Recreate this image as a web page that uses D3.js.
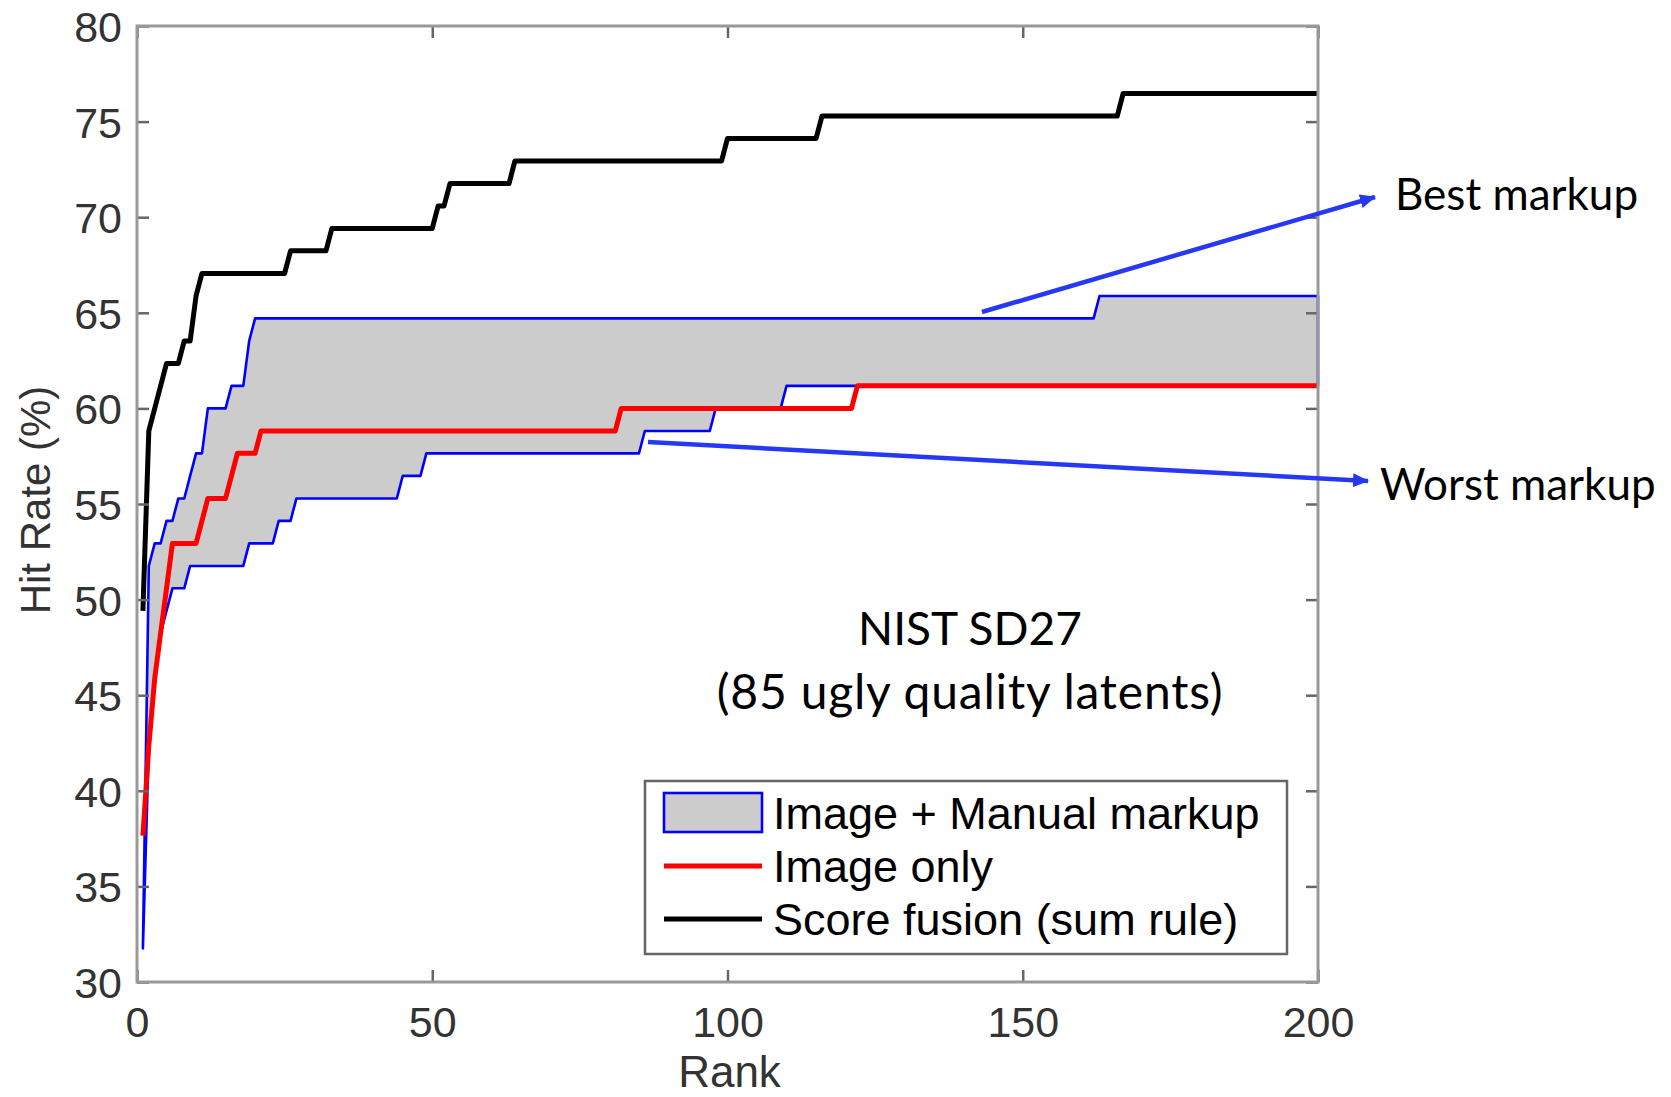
<!DOCTYPE html>
<html>
<head>
<meta charset="utf-8">
<script src="https://cdn.jsdelivr.net/npm/d3@7"></script>
<style>
  html, body { margin: 0; padding: 0; background: #fff; }
  svg { display: block; }
</style>
</head>
<body>
<svg id="chart" width="1671" height="1097"></svg>
<script>
// Cumulative match characteristic, NIST SD27 (85 ugly latents).
// Each series is a step curve: the hit rate (%) starting at the given rank
// holds until the next listed rank.
const maxRank = 200;

const fusionRanks = [1, 2, 3, 4, 5, 8, 10, 11, 26, 33, 51, 53, 64, 100, 116, 167];
const fusionHits  = [49.41, 58.82, 60.00, 61.18, 62.35, 63.53, 65.88, 67.06, 68.24, 69.41, 70.59, 71.76, 72.94, 74.12, 75.29, 76.47];

const imageOnlyRanks = [1, 2, 3, 4, 5, 6, 11, 12, 16, 17, 21, 82, 122];
const imageOnlyHits  = [37.65, 42.35, 45.88, 48.24, 50.59, 52.94, 54.12, 55.29, 56.47, 57.65, 58.82, 60.00, 61.18];

const bestRanks = [1, 2, 3, 5, 7, 9, 10, 12, 16, 19, 20, 163];
const bestHits  = [31.76, 51.76, 52.94, 54.12, 55.29, 56.47, 57.65, 60.00, 61.18, 63.53, 64.71, 65.88];

const worstRanks = [1, 2, 3, 4, 5, 6, 9, 19, 24, 27, 45, 49, 86, 98, 110];
const worstHits  = [31.76, 42.35, 45.88, 48.24, 49.41, 50.59, 51.76, 52.94, 54.12, 55.29, 56.47, 57.65, 58.82, 60.00, 61.18];

const xTicks = [0, 50, 100, 150, 200];
const yTicks = [30, 35, 40, 45, 50, 55, 60, 65, 70, 75, 80];

const legendLabels = ["Image + Manual markup", "Image only", "Score fusion (sum rule)"];
const titleLines = ["NIST SD27", "(85 ugly quality latents)"];

// ---- layout ----
const plot = { left: 137, top: 26, right: 1318, bottom: 982 };
const sansFont = "'Liberation Sans', Arial, Helvetica, sans-serif";
const noteFont = "Lato, 'Open Sans', sans-serif";
const arrowBlue = "#2638f4";

const svg = d3.select("#chart");

const x = d3.scaleLinear().domain([0, maxRank]).range([plot.left, plot.right]);
const y = d3.scaleLinear().domain([30, 80]).range([plot.bottom, plot.top]);

function stepPoints(ranks, hits) {
  const pts = [];
  ranks.forEach((r, i) => {
    pts.push([r, hits[i]]);
    const end = i + 1 < ranks.length ? ranks[i + 1] - 1 : maxRank;
    if (end > r) pts.push([end, hits[i]]);
  });
  return pts;
}

const line = d3.line().x(d => x(d[0])).y(d => y(d[1]));

const bestPts = stepPoints(bestRanks, bestHits);
const worstPts = stepPoints(worstRanks, worstHits);
const imagePts = stepPoints(imageOnlyRanks, imageOnlyHits);
const fusionPts = stepPoints(fusionRanks, fusionHits);

// ---- band between best and worst markup ----
svg.append("path")
  .attr("d", line(bestPts.concat(worstPts.slice().reverse())) + "Z")
  .attr("fill", "#cccccc")
  .attr("stroke", "#0000ff")
  .attr("stroke-width", 2.6)
  .attr("stroke-linejoin", "round");

svg.append("path")
  .attr("d", line(imagePts))
  .attr("fill", "none")
  .attr("stroke", "#ff0000")
  .attr("stroke-width", 5)
  .attr("stroke-linejoin", "round");

svg.append("path")
  .attr("d", line(fusionPts))
  .attr("fill", "none")
  .attr("stroke", "#000000")
  .attr("stroke-width", 5)
  .attr("stroke-linejoin", "round");

// ---- axes (box with inward ticks on all sides) ----
const tickLen = 12;
function styleAxis(g) {
  g.select(".domain").remove();
  g.selectAll(".tick line").attr("stroke", "#666").attr("stroke-width", 2.5);
  g.selectAll(".tick text")
    .attr("fill", "#333")
    .style("font-family", sansFont)
    .style("font-size", "43px");
}

svg.append("g")
  .attr("transform", `translate(${plot.left},0)`)
  .call(d3.axisLeft(y).tickValues(yTicks).tickSize(-tickLen).tickSizeOuter(0).tickPadding(15))
  .call(styleAxis)
  .call(g => g.selectAll(".tick text").attr("dy", "0.36em"));

svg.append("g")
  .attr("transform", `translate(0,${plot.bottom})`)
  .call(d3.axisBottom(x).tickValues(xTicks).tickSize(-tickLen).tickSizeOuter(0))
  .call(styleAxis)
  .call(g => g.selectAll(".tick text").attr("dy", null).attr("y", 55));

svg.append("g")
  .attr("transform", `translate(0,${plot.top})`)
  .call(d3.axisTop(x).tickValues(xTicks).tickSize(-tickLen).tickSizeOuter(0).tickFormat(""))
  .call(styleAxis);

svg.append("g")
  .attr("transform", `translate(${plot.right},0)`)
  .call(d3.axisRight(y).tickValues(yTicks).tickSize(-tickLen).tickSizeOuter(0).tickFormat(""))
  .call(styleAxis);

svg.append("rect")
  .attr("x", plot.left).attr("y", plot.top)
  .attr("width", plot.right - plot.left).attr("height", plot.bottom - plot.top)
  .attr("fill", "none").attr("stroke", "#999").attr("stroke-width", 3);

// axis titles
svg.append("text")
  .attr("x", (plot.left + plot.right) / 2 + 2).attr("y", 1087)
  .attr("text-anchor", "middle")
  .attr("fill", "#333")
  .style("font-family", sansFont).style("font-size", "44px")
  .text("Rank");

svg.append("text")
  .attr("transform", "translate(50,500) rotate(-90)")
  .attr("text-anchor", "middle")
  .attr("fill", "#333")
  .style("font-family", sansFont).style("font-size", "42px")
  .text("Hit Rate (%)");

// ---- dataset caption ----
svg.append("g").selectAll("text")
  .data(titleLines).join("text")
  .attr("x", 970).attr("y", (d, i) => 645 + i * 64)
  .attr("text-anchor", "middle")
  .attr("fill", "#000")
  .style("font-family", noteFont)
  .style("font-size", (d, i) => i === 0 ? "46px" : "48px")
  .style("letter-spacing", (d, i) => i === 0 ? "0px" : "0.8px")
  .text(d => d);

// ---- legend ----
const legend = svg.append("g");
legend.append("rect")
  .attr("x", 645).attr("y", 781).attr("width", 642).attr("height", 173)
  .attr("fill", "#fff").attr("stroke", "#666").attr("stroke-width", 2.5);

legend.append("rect")
  .attr("x", 664).attr("y", 793).attr("width", 98).attr("height", 39)
  .attr("fill", "#cccccc").attr("stroke", "#0000ff").attr("stroke-width", 2.6);

legend.append("line")
  .attr("x1", 664).attr("x2", 762).attr("y1", 866).attr("y2", 866)
  .attr("stroke", "#ff0000").attr("stroke-width", 5);

legend.append("line")
  .attr("x1", 664).attr("x2", 762).attr("y1", 919).attr("y2", 919)
  .attr("stroke", "#000").attr("stroke-width", 5);

legend.selectAll("text.entry")
  .data(legendLabels).join("text")
  .attr("class", "entry")
  .attr("x", 773).attr("y", (d, i) => 829 + i * 53)
  .attr("fill", "#000")
  .style("font-family", sansFont).style("font-size", "45px")
  .text(d => d);

// ---- annotations ----
const defs = svg.append("defs");
defs.append("marker")
  .attr("id", "arrowhead")
  .attr("viewBox", "0 0 16 14")
  .attr("refX", 15).attr("refY", 7)
  .attr("markerWidth", 16).attr("markerHeight", 14)
  .attr("markerUnits", "userSpaceOnUse")
  .attr("orient", "auto")
  .append("path")
  .attr("d", "M0,0 L16,7 L0,14 Z")
  .attr("fill", arrowBlue);

const notes = [
  { text: "Best markup",  from: [982, 312], to: [1375, 197], tx: 1395, ty: 210 },
  { text: "Worst markup", from: [648, 442], to: [1368, 481], tx: 1380, ty: 500 }
];

notes.forEach(n => {
  svg.append("line")
    .attr("x1", n.from[0]).attr("y1", n.from[1])
    .attr("x2", n.to[0]).attr("y2", n.to[1])
    .attr("stroke", arrowBlue).attr("stroke-width", 4.5)
    .attr("marker-end", "url(#arrowhead)");
  svg.append("text")
    .attr("x", n.tx).attr("y", n.ty)
    .attr("fill", "#000")
    .style("font-family", noteFont).style("font-size", "44px")
    .text(n.text);
});
</script>
</body>
</html>
